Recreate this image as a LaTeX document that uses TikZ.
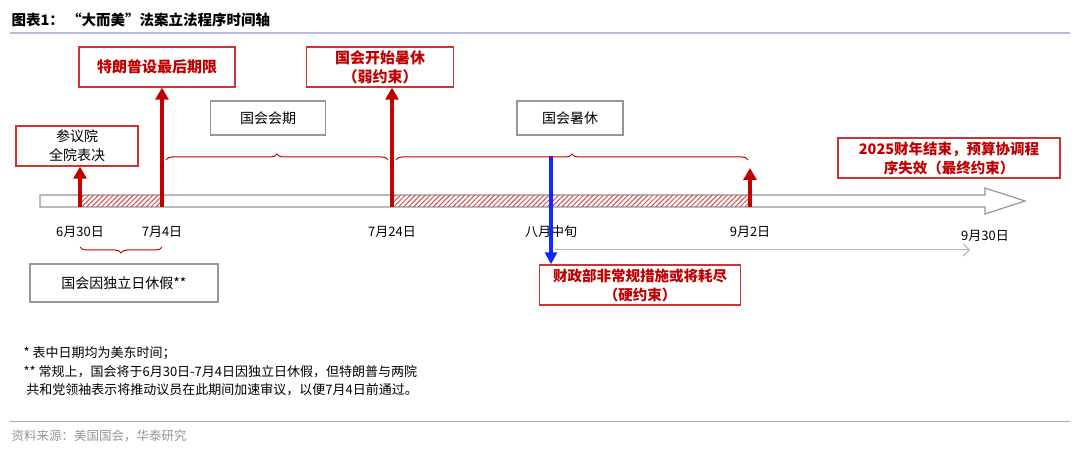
\documentclass[tikz,border=0pt]{standalone}
\usepackage{fontspec}
\setmainfont{Noto Sans CJK SC}
\usepackage{xcolor}
\usetikzlibrary{arrows.meta,patterns.meta,decorations.pathreplacing}
\definecolor{hred}{RGB}{192,0,0}
\definecolor{hgray}{RGB}{150,150,150}
\definecolor{hblue}{RGB}{20,40,255}

\begin{document}
\begin{tikzpicture}[x=1pt,y=-1pt,font=\fontsize{14}{18}\selectfont,
            redbox/.style={draw=hred!80,line width=1.3pt,fill=white,align=center,inner sep=0pt},
            graybox/.style={draw=hgray,line width=1.3pt,fill=white,align=center,inner sep=0pt},
            uparrow/.style={-{Triangle[length=12pt,width=13pt]},line width=3.6pt,hred},
            brace/.style={decorate,decoration={brace,amplitude=6pt},hred,line width=1pt},
            datelab/.style={font=\fontsize{13}{15}\selectfont}]
        \useasboundingbox (0,0) rectangle (1080,457);

        % title
        \node[anchor=west,font=\fontsize{14.5}{17}\selectfont\bfseries] (title) at (8,20) {图表1：\ “大而美”法案立法程序时间轴};
        \draw[color=gray!60!blue!40,line width=1.2pt] (10,33) -- (1070,33);

        % timeline bar
        \draw[hgray,line width=1.2pt,fill=white] (40,195) -- (985,195) -- (985,188) -- (1025,201) -- (985,214) -- (985,207) -- (40,207) -- cycle;
        \fill[pattern={Lines[angle=45,distance=3.5pt,line width=1pt]},pattern color=hred!70] (80,195.6) rectangle (162,206.4);
        \fill[pattern={Lines[angle=45,distance=3.5pt,line width=1pt]},pattern color=hred!70] (392,195.6) rectangle (750,206.4);

        % boxes
        \node[redbox,text=hred,font=\fontsize{15}{19}\selectfont\bfseries,minimum width=156pt,minimum height=40pt] (deadline) at (157,67) {特朗普设最后期限};
        \node[redbox,text=hred,font=\fontsize{15}{19}\selectfont\bfseries,minimum width=147pt,minimum height=40pt] (recess) at (380,67) {国会开始暑休\\（弱约束）};
        \node[graybox,minimum width=115pt,minimum height=34pt] (session) at (268,118) {国会会期};
        \node[graybox,minimum width=106pt,minimum height=34pt] (summer) at (570,118) {国会暑休};
        \node[redbox,minimum width=122pt,minimum height=40pt,font=\fontsize{14}{19}\selectfont] (senate) at (77,146) {参议院\\全院表决};
        \node[redbox,text=hred,font=\fontsize{14.5}{19}\selectfont\bfseries,minimum width=222pt,minimum height=40pt] (fiscal) at (949,158) {2025财年结束，预算协调程\\序失效（最终约束）};
        \node[redbox,text=hred,font=\fontsize{14.5}{19}\selectfont\bfseries,minimum width=201pt,minimum height=40pt] (treasury) at (640,285) {财政部非常规措施或将耗尽\\（硬约束）};
        \node[graybox,minimum width=188pt,minimum height=38pt] (holiday) at (124,283) {国会因独立日休假**};

        % dates
        \node[datelab] (d630) at (80,232) {6月30日};
        \node[datelab] (d704) at (162,232) {7月4日};
        \node[datelab] (d724) at (392,232) {7月24日};
        \node[datelab] (dmid) at (551,232) {八月中旬};
        \node[datelab] (d902) at (750,232) {9月2日};
        \node[datelab] (d930) at (985,236) {9月30日};

        % arrows
        \coordinate (a630) at (80,207);
        \coordinate (a704) at (162,207);
        \coordinate (a724) at (392,207);
        \coordinate (a902) at (750,207);
        \coordinate (bmid) at (551,156);
        \draw[uparrow] (a630) -- (senate.south -| a630);
        \draw[uparrow] (a704) -- (deadline.south -| a704);
        \draw[uparrow] (a724) -- (recess.south -| a724);
        \draw[uparrow] (a902) -- (750,168);
        \draw[-{Triangle[length=12pt,width=12pt]},line width=3.2pt,hblue] (bmid) -- (treasury.north -| bmid);
        \draw[-{Straight Barb[length=6pt]},hgray!70,line width=1pt] (555,250) -- (970,250);

        % braces
        \draw[brace] (166,160) -- (388,160);
        \draw[brace] (396,160) -- (748,160);
        \draw[brace] (162,247) -- (80,247);

        % notes
        \node[anchor=north west,align=left,font=\fontsize{13}{18.5}\selectfont] (notes) at (20,343) {* 表中日期均为美东时间；\\** 常规上，国会将于6月30日-7月4日因独立日休假，但特朗普与两院\\\ 共和党领袖表示将推动议员在此期间加速审议，以便7月4日前通过。};
        \draw[hgray!80,line width=1pt] (10,421) -- (1070,421);
        \node[anchor=west,text=hgray,font=\fontsize{12.5}{14}\selectfont] (source) at (8,436) {资料来源：美国国会，华泰研究};
    \end{tikzpicture}
\end{document}
